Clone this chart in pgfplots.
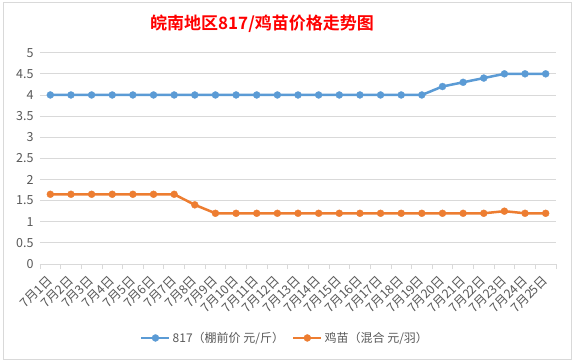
\documentclass[border=0pt]{standalone}
\usepackage{fontspec}
\setmainfont{Noto Sans CJK SC}[BoldFont={Noto Sans CJK SC Bold}]
\usepackage{pgfplots}
\pgfplotsset{compat=1.18}
\definecolor{bl}{HTML}{5B9BD5}
\definecolor{orr}{HTML}{ED7D31}
\definecolor{gr}{HTML}{D9D9D9}
\definecolor{tx}{HTML}{595959}
\begin{document}
\begin{tikzpicture}
\path[use as bounding box] (0,0) rectangle (573pt,362pt);
\fill[white] (0,0) rectangle (573pt,362pt);
\draw[gr, line width=0.75pt] (3pt,3pt) rectangle (571pt,360pt);
\node[text=red, font=\fontsize{17}{20}\selectfont\bfseries] at (262pt,338.5pt) {皖南地区817/鸡苗价格走势图};
\begin{axis}[
  at={(40pt,98pt)}, anchor=south west, scale only axis,
  width=516pt, height=211.3pt,
  xmin=-0.5, xmax=24.5, ymin=0, ymax=5,
  axis lines*=left,
  x axis line style={-, draw=gr, line width=0.75pt},
  y axis line style={draw=none},
  tick align=outside,
  major tick length=0pt, minor tick length=5pt,
  tick style={gr, line width=0.75pt},
  ymajorgrids, grid style={gr, line width=0.75pt},
  xtick={0,...,24},
  minor xtick={-0.5,0.5,...,24.5},
  xticklabels={7月1日,7月2日,7月3日,7月4日,7月5日,7月6日,7月7日,7月8日,7月9日,7月10日,7月11日,7月12日,7月13日,7月14日,7月15日,7月16日,7月17日,7月18日,7月19日,7月20日,7月21日,7月22日,7月23日,7月24日,7月25日},
  ytick={0,0.5,1,1.5,2,2.5,3,3.5,4,4.5,5},
  yticklabels={0,0.5,1,1.5,2,2.5,3,3.5,4,4.5,5},
  /pgf/number format/assume math mode=true,
  xticklabel style={font=\fontsize{12.5}{12.5}\selectfont, text=tx, rotate=45, anchor=east, inner sep=0pt},
  xticklabel shift=14pt,
  yticklabel style={font=\fontsize{12.5}{12.5}\selectfont, text=tx, xshift=-3pt},
  legend style={at={(0.475,-0.35)}, anchor=center, draw=none, fill=none,
    font=\fontsize{12}{14}\selectfont, text=tx,
    /tikz/every even column/.append style={column sep=6pt}},
  legend columns=2,
  legend image code/.code={\draw[mark repeat=2,mark phase=2] plot coordinates {(0pt,0pt)(14pt,0pt)(28pt,0pt)};},
]
\addplot[bl, line width=2.5pt, mark=*, mark size=3.5pt, mark options={solid, fill=bl, draw=bl, line width=0.3pt}] coordinates {
(0,4.0)(1,4.0)(2,4.0)(3,4.0)(4,4.0)(5,4.0)(6,4.0)(7,4.0)(8,4.0)(9,4.0)(10,4.0)(11,4.0)(12,4.0)(13,4.0)(14,4.0)(15,4.0)(16,4.0)(17,4.0)(18,4.0)(19,4.2)(20,4.3)(21,4.4)(22,4.5)(23,4.5)(24,4.5)};
\addlegendentry{817（棚前价 元/斤）}
\addplot[orr, line width=2.5pt, mark=*, mark size=3.5pt, mark options={solid, fill=orr, draw=orr, line width=0.3pt}] coordinates {
(0,1.65)(1,1.65)(2,1.65)(3,1.65)(4,1.65)(5,1.65)(6,1.65)(7,1.4)(8,1.2)(9,1.2)(10,1.2)(11,1.2)(12,1.2)(13,1.2)(14,1.2)(15,1.2)(16,1.2)(17,1.2)(18,1.2)(19,1.2)(20,1.2)(21,1.2)(22,1.25)(23,1.2)(24,1.2)};
\addlegendentry{鸡苗（混合 元/羽）}
\end{axis}
\end{tikzpicture}
\end{document}
